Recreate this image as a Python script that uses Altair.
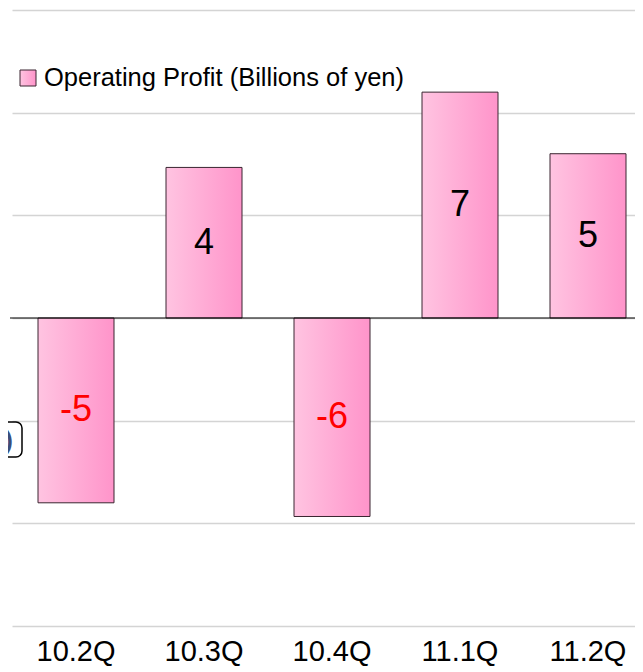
import altair as alt
import pandas as pd

quarters = ["10.2Q", "10.3Q", "10.4Q", "11.1Q", "11.2Q"]
profit = [-5.4, 4.4, -5.8, 6.6, 4.8]
labels = ["-5", "4", "-6", "7", "5"]
grid_values = [-9, -6, -3, 0, 3, 6, 9]
legend_title = "Operating Profit (Billions of yen)"
side_text = ["s)"]

FONT = "Liberation Sans"

df = pd.DataFrame({"q": quarters, "v": profit, "lab": labels})

grad = alt.Gradient(
    gradient="linear",
    stops=[alt.GradientStop(color="#FFC4E1", offset=0),
           alt.GradientStop(color="#FF94CA", offset=1)],
    x1=0, x2=1, y1=0, y2=0,
)

xscale = alt.Scale(domain=quarters, range=[2, 642], paddingInner=0.40625, paddingOuter=0.203125)
yscale = alt.Scale(domain=[-9, 9], nice=False, zero=False)

x = alt.X("q:N", scale=xscale, sort=quarters,
          axis=alt.Axis(title=None, labelAngle=0, labelFontSize=29, labelColor="black",
                        labelFont=FONT, ticks=False, domain=False, labelPadding=11, grid=False))
y = alt.Y("v:Q", scale=yscale,
          axis=alt.Axis(title=None, labels=False, ticks=False, domain=False, grid=True,
                        values=grid_values, gridColor="#D4D4D4", gridWidth=1.5))

base = alt.Chart(df)

bars = base.mark_bar(color=grad, stroke="#3A2530", strokeWidth=1).encode(
    x=x, y=y, y2=alt.datum(0)
)

texts = base.transform_calculate(mid="datum.v / 2").mark_text(
    font=FONT, fontSize=36, baseline="middle", align="center"
).encode(
    x=alt.X("q:N", scale=xscale, sort=quarters),
    y=alt.Y("mid:Q", scale=yscale),
    text="lab:N",
    color=alt.condition(alt.datum.v < 0, alt.value("#FF0000"), alt.value("#000000")),
)

zero = alt.Chart(pd.DataFrame({"z": [0]})).mark_rule(color="black", strokeWidth=1.2).encode(
    y=alt.Y("z:Q", scale=yscale)
)

leg_df = pd.DataFrame({"t": [legend_title]})
leg_swatch = alt.Chart(leg_df).mark_rect(color=grad, stroke="#3A2530", strokeWidth=1).encode(
    x=alt.value(10), x2=alt.value(26), y=alt.value(60), y2=alt.value(76)
)
leg_text = alt.Chart(leg_df).mark_text(
    font=FONT, fontSize=25.5, align="left", baseline="middle", color="black"
).encode(x=alt.value(34), y=alt.value(68), text="t:N")

side_df = pd.DataFrame({"t": side_text})
side_box = alt.Chart(side_df).mark_rect(
    fill="white", stroke="black", strokeWidth=1.5, cornerRadius=6
).encode(x=alt.value(-60), x2=alt.value(12), y=alt.value(412), y2=alt.value(447))
side_label = alt.Chart(side_df).mark_text(
    font=FONT, fontSize=26, fontWeight="bold", align="right", baseline="middle", color="#3A4E7A"
).encode(x=alt.value(3), y=alt.value(431), text="t:N")

chart = alt.layer(bars, zero, texts, leg_swatch, leg_text, side_box, side_label).properties(
    width=625, height=616,
    background="white",
    autosize=alt.AutoSizeParams(type="none"),
    padding={"left": 2, "top": 2, "right": 0, "bottom": 40},
).configure_view(stroke=None)

chart.save("out.html", embed_options={"renderer": "svg", "actions": False})
